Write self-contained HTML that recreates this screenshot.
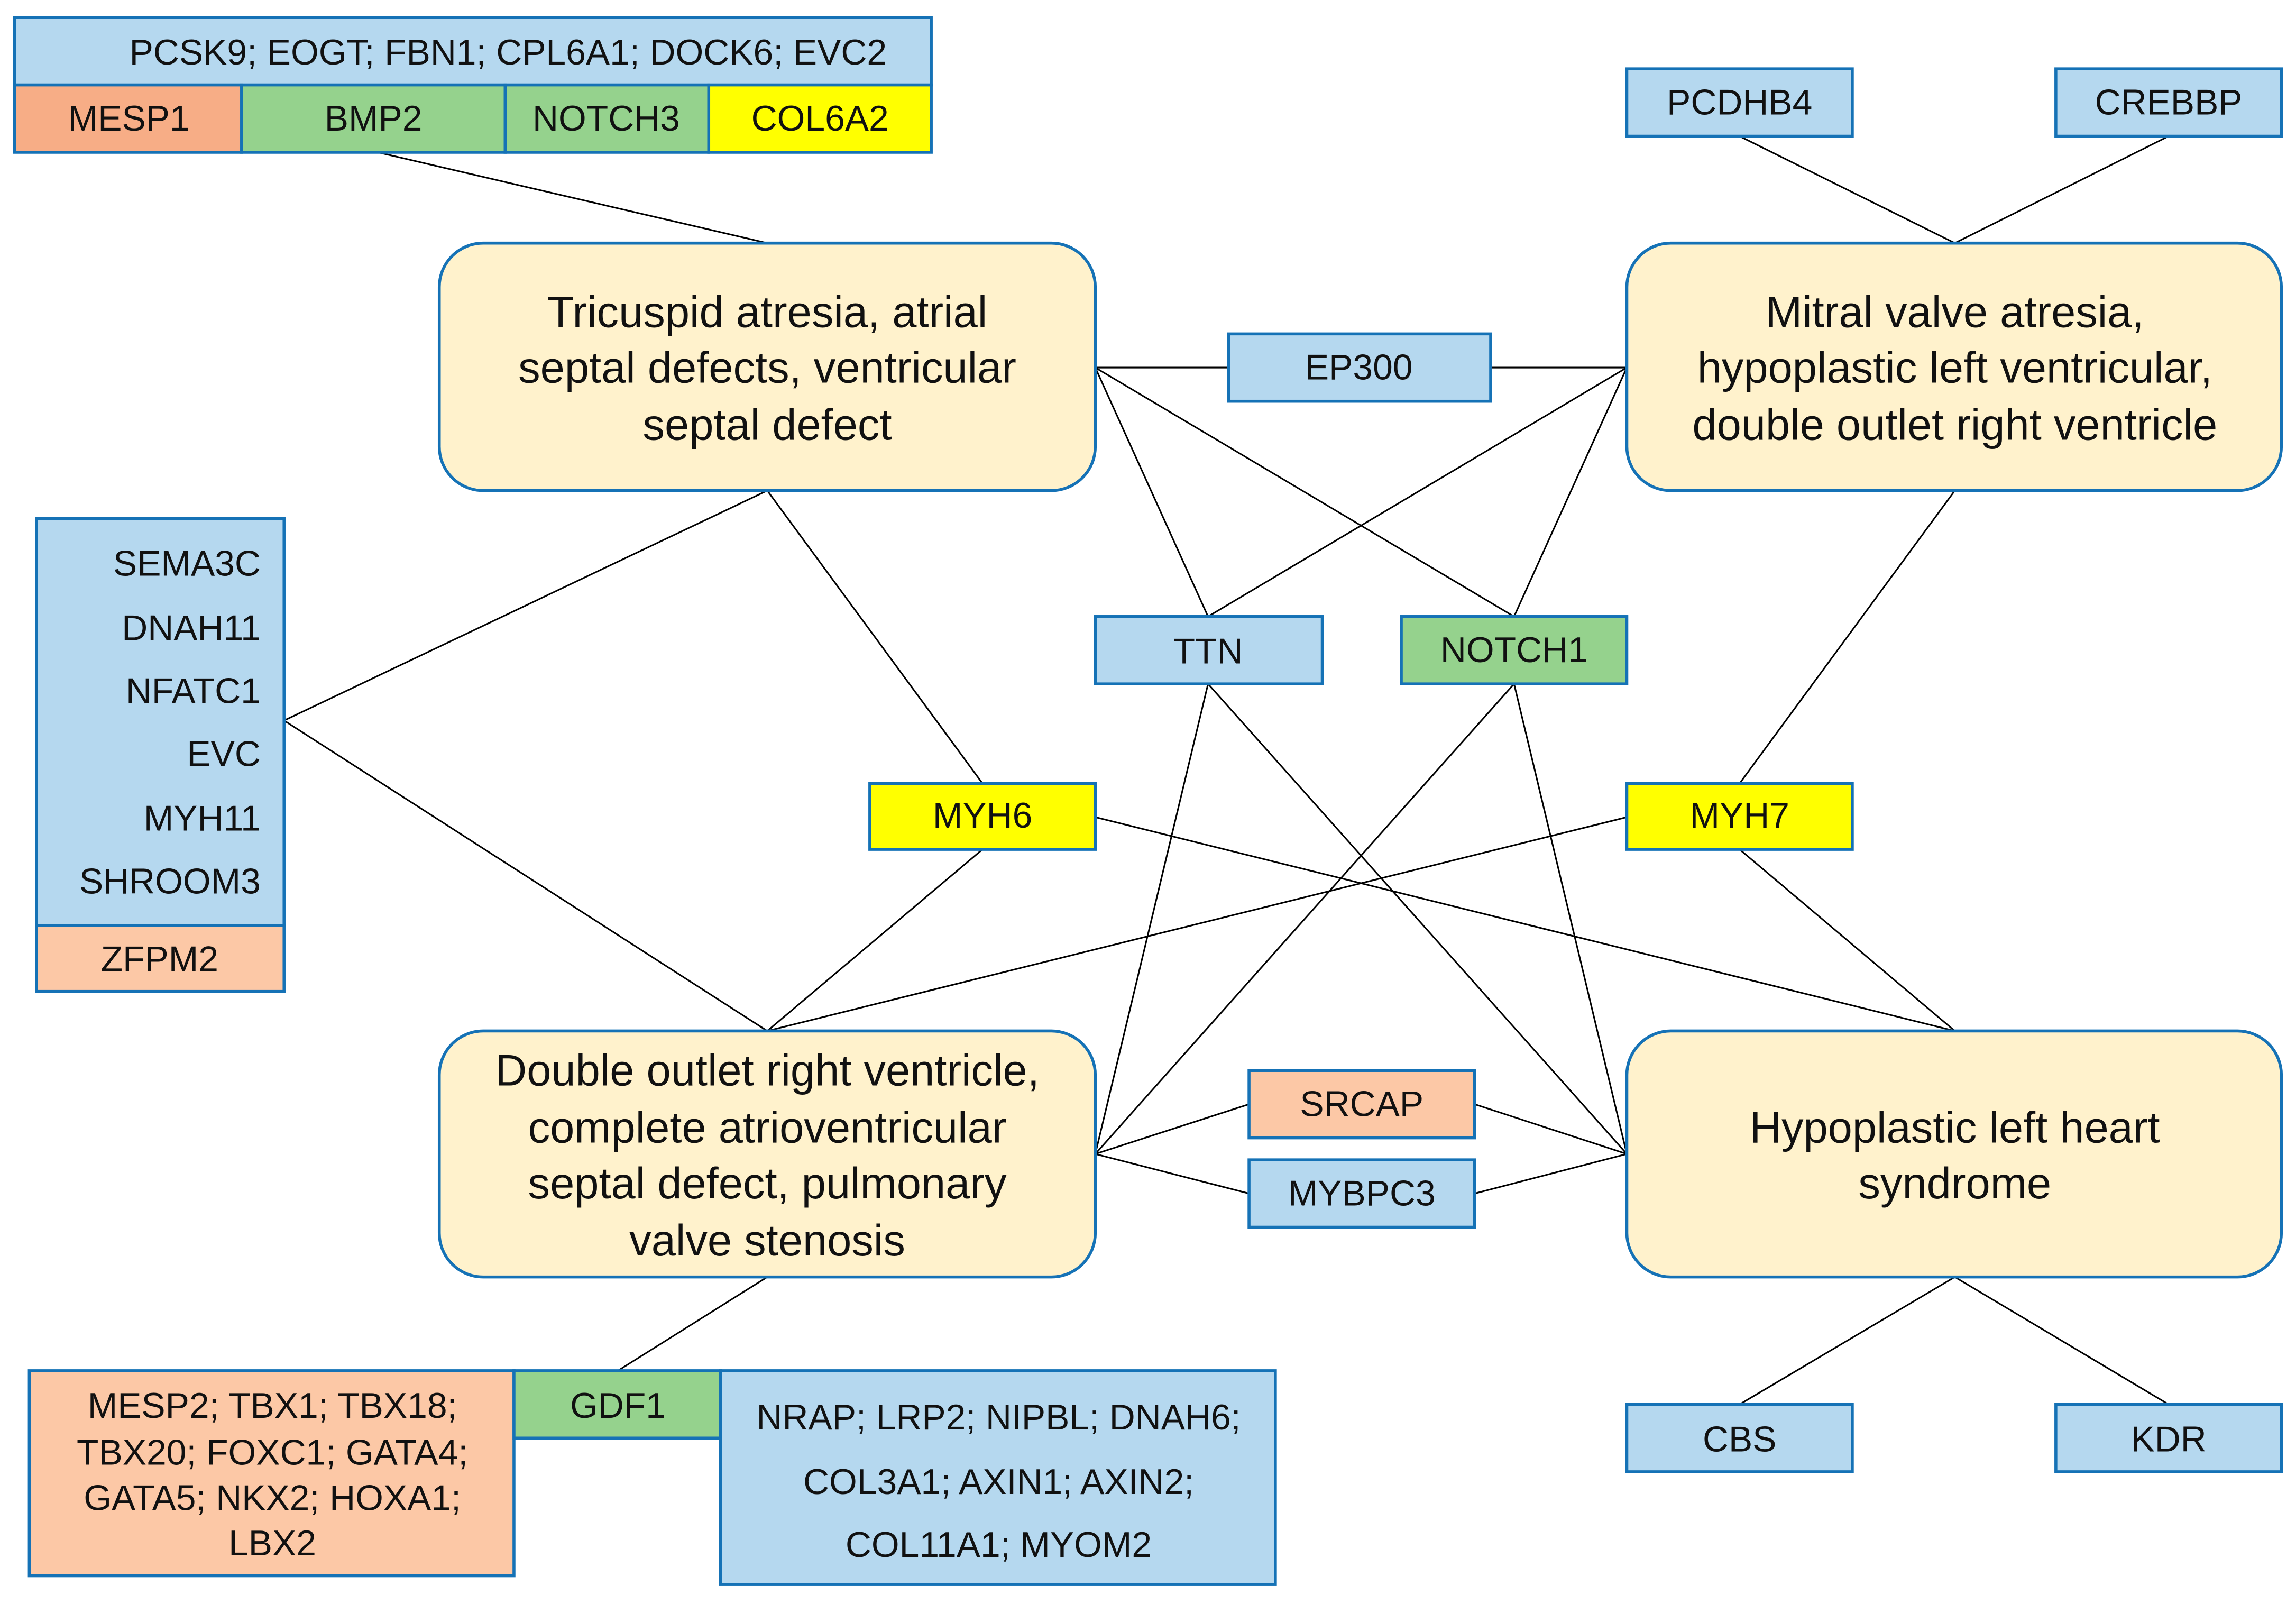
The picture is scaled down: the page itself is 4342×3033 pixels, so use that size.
<!DOCTYPE html>
<html><head><meta charset="utf-8"><style>html,body{margin:0;padding:0;background:#fff}svg{display:block}</style></head><body>
<svg xmlns="http://www.w3.org/2000/svg" width="4342" height="3033" viewBox="0 0 1568 1095.3" preserveAspectRatio="none" font-family="Liberation Sans, Arial, sans-serif">
<g stroke="#000" stroke-width="1.1" fill="none">
<line x1="258" y1="104" x2="524" y2="166"/>
<line x1="1188" y1="93" x2="1335" y2="166"/><line x1="1481" y1="93" x2="1335" y2="166"/>
<line x1="748" y1="251" x2="839" y2="251"/><line x1="1018" y1="251" x2="1111" y2="251"/>
<line x1="748" y1="251" x2="825" y2="421"/><line x1="748" y1="251" x2="1034" y2="421"/>
<line x1="1111" y1="251" x2="825" y2="421"/><line x1="1111" y1="251" x2="1034" y2="421"/>
<line x1="524" y1="335" x2="194" y2="492"/><line x1="524" y1="335" x2="671" y2="535"/>
<line x1="194" y1="492" x2="524" y2="704"/>
<line x1="1335" y1="335" x2="1188" y2="535"/>
<line x1="671" y1="580" x2="524" y2="704"/>
<line x1="1111" y1="558" x2="524" y2="704"/>
<line x1="748" y1="558" x2="1335" y2="704"/>
<line x1="1188" y1="580" x2="1335" y2="704"/>
<line x1="825" y1="467" x2="748" y2="788"/><line x1="825" y1="467" x2="1111" y2="788"/>
<line x1="1034" y1="467" x2="748" y2="788"/><line x1="1034" y1="467" x2="1111" y2="788"/>
<line x1="748" y1="788" x2="853" y2="754"/><line x1="748" y1="788" x2="853" y2="815"/>
<line x1="1007" y1="754" x2="1111" y2="788"/><line x1="1007" y1="815" x2="1111" y2="788"/>
<line x1="524" y1="872" x2="422" y2="936"/>
<line x1="1335" y1="872" x2="1188" y2="959"/><line x1="1335" y1="872" x2="1481" y2="959"/>
</g>
<g stroke="#1572b6" stroke-width="2">
<rect x="10" y="12" width="626" height="46" fill="#b5d8ef"/>
<rect x="10" y="58" width="155" height="46" fill="#f7ad86"/>
<rect x="165" y="58" width="180" height="46" fill="#95d28d"/>
<rect x="345" y="58" width="139" height="46" fill="#95d28d"/>
<rect x="484" y="58" width="152" height="46" fill="#ffff00"/>
<rect x="300" y="166" width="448" height="169" rx="30" fill="#fff2cc"/>
<rect x="1111" y="166" width="447" height="169" rx="30" fill="#fff2cc"/>
<rect x="300" y="704" width="448" height="168" rx="30" fill="#fff2cc"/>
<rect x="1111" y="704" width="447" height="168" rx="30" fill="#fff2cc"/>
<rect x="1111" y="47" width="154" height="46" fill="#b5d8ef"/>
<rect x="1404" y="47" width="154" height="46" fill="#b5d8ef"/>
<rect x="839" y="228" width="179" height="46" fill="#b5d8ef"/>
<rect x="748" y="421" width="155" height="46" fill="#b5d8ef"/>
<rect x="957" y="421" width="154" height="46" fill="#95d28d"/>
<rect x="594" y="535" width="154" height="45" fill="#ffff00"/>
<rect x="1111" y="535" width="154" height="45" fill="#ffff00"/>
<rect x="25" y="354" width="169" height="278" fill="#b5d8ef"/>
<rect x="25" y="632" width="169" height="45" fill="#fcc8a6"/>
<rect x="853" y="731" width="154" height="46" fill="#fcc8a6"/>
<rect x="853" y="792" width="154" height="46" fill="#b5d8ef"/>
<rect x="1111" y="959" width="154" height="46" fill="#b5d8ef"/>
<rect x="1404" y="959" width="154" height="46" fill="#b5d8ef"/>
<rect x="20" y="936" width="331" height="140" fill="#fcc8a6"/>
<rect x="351" y="936" width="141" height="46" fill="#95d28d"/>
<rect x="492" y="936" width="379" height="146" fill="#b5d8ef"/>
</g>
<g font-size="24.5" fill="#111" text-anchor="middle" dominant-baseline="central">
<text x="347" y="36">PCSK9; EOGT; FBN1; CPL6A1; DOCK6; EVC2</text>
<text x="88" y="81">MESP1</text><text x="255" y="81">BMP2</text><text x="414" y="81">NOTCH3</text><text x="560" y="81">COL6A2</text>
<text x="1188" y="70">PCDHB4</text><text x="1481" y="70">CREBBP</text>
<text x="928" y="251">EP300</text>
<text x="825" y="445">TTN</text><text x="1034" y="444">NOTCH1</text>
<text x="671" y="557">MYH6</text><text x="1188" y="557">MYH7</text>
<text x="930" y="754">SRCAP</text><text x="930" y="815">MYBPC3</text>
<text x="1188" y="983">CBS</text><text x="1481" y="983">KDR</text>
<text x="109" y="655">ZFPM2</text>
<text x="422" y="960">GDF1</text>
<text x="186" y="960">MESP2; TBX1; TBX18;</text>
<text x="186" y="992">TBX20; FOXC1; GATA4;</text>
<text x="186" y="1023">GATA5; NKX2; HOXA1;</text>
<text x="186" y="1054">LBX2</text>
<text x="682" y="968">NRAP; LRP2; NIPBL; DNAH6;</text>
<text x="682" y="1012">COL3A1; AXIN1; AXIN2;</text>
<text x="682" y="1055">COL11A1; MYOM2</text>
</g>
<g font-size="24.5" fill="#111" text-anchor="end" dominant-baseline="central">
<text x="178" y="385">SEMA3C</text><text x="178" y="429">DNAH11</text><text x="178" y="472">NFATC1</text>
<text x="178" y="515">EVC</text><text x="178" y="559">MYH11</text><text x="178" y="602">SHROOM3</text>
</g>
<g font-size="30" fill="#111" text-anchor="middle" dominant-baseline="central">
<text x="524" y="213">Tricuspid atresia, atrial</text>
<text x="524" y="251">septal defects, ventricular</text>
<text x="524" y="290">septal defect</text>
<text x="1335" y="213">Mitral valve atresia,</text>
<text x="1335" y="251">hypoplastic left ventricular,</text>
<text x="1335" y="290">double outlet right ventricle</text>
<text x="524" y="731">Double outlet right ventricle,</text>
<text x="524" y="770">complete atrioventricular</text>
<text x="524" y="808">septal defect, pulmonary</text>
<text x="524" y="847">valve stenosis</text>
<text x="1335" y="770">Hypoplastic left heart</text>
<text x="1335" y="808">syndrome</text>
</g>
</svg>
</body></html>
